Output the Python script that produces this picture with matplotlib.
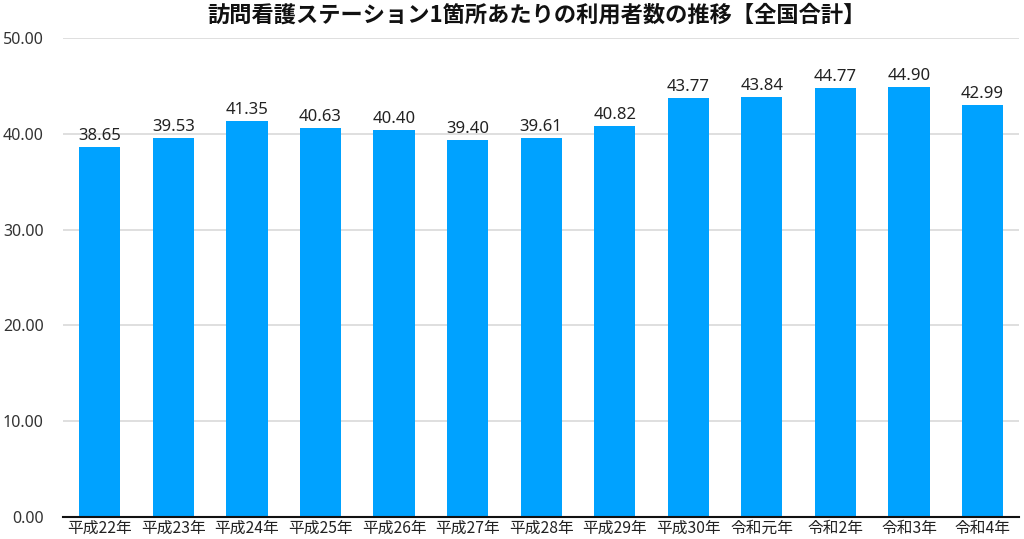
import numpy as np
import matplotlib.pyplot as plt

plt.rcParams['font.family'] = ['Noto Sans CJK JP', 'DejaVu Sans']
num_font = ['Noto Sans', 'DejaVu Sans']

years = ["平成22年", "平成23年", "平成24年", "平成25年", "平成26年", "平成27年",
         "平成28年", "平成29年", "平成30年", "令和元年", "令和2年", "令和3年", "令和4年"]
users_per_station = [38.65, 39.53, 41.35, 40.63, 40.40, 39.40,
                     39.61, 40.82, 43.77, 43.84, 44.77, 44.90, 42.99]
yticks = [0, 10, 20, 30, 40, 50]

fig = plt.figure(figsize=(10.24, 5.39), dpi=100)
ax = fig.add_axes([0.0615, 0.0408, 0.934, 0.8887])

x = np.arange(len(years))
bars = ax.bar(x, users_per_station, width=0.56, color='#00A2FF', zorder=3)
for b, v in zip(bars, users_per_station):
    ax.text(b.get_x() + b.get_width() / 2, v + 0.3, "%.2f" % v,
            ha='center', va='bottom', fontsize=12, color='#222222',
            family=num_font, zorder=4)

ax.set_xlim(-0.5, len(years) - 0.5)
ax.set_ylim(0, 50)
ax.set_yticks(yticks)
ax.set_yticklabels(["%.2f" % t for t in yticks], fontsize=11.5, color='#333333',
                   family=num_font)
ax.set_xticks(x)
ax.set_xticklabels(years, fontsize=11.3, color='#222222')
ax.tick_params(axis='both', length=0, pad=2)
ax.tick_params(axis='y', pad=14)

ax.grid(axis='y', color='#d9d9d9', linewidth=1.2, zorder=0)
for s in ['top', 'right', 'left']:
    ax.spines[s].set_visible(False)
ax.spines['bottom'].set_color('#111111')
ax.spines['bottom'].set_linewidth(1.5)
ax.spines['bottom'].set_zorder(5)

fig.text(0.524, 0.972, "訪問看護ステーション1箇所あたりの利用者数の推移【全国合計】",
         ha='center', va='center', fontsize=16, fontweight='bold', color='#111111')

fig.savefig("out.png", dpi=100)
